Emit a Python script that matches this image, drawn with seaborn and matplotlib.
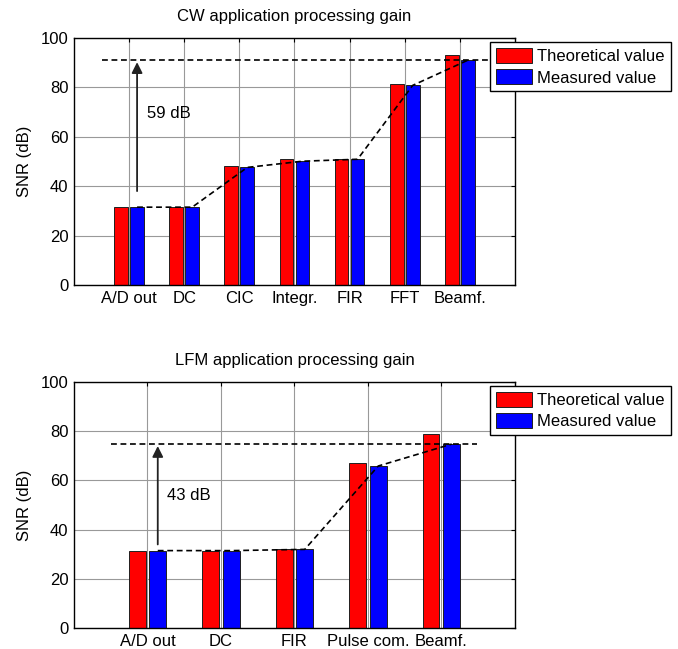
import numpy as np
import pandas as pd
import matplotlib
matplotlib.use("Agg")
import matplotlib.pyplot as plt
import seaborn as sns

# ---- data ----
cw_stages = ["A/D out", "DC", "CIC", "Integr.", "FIR", "FFT", "Beamf."]
cw_theoretical = [31.5, 31.5, 48.3, 51.1, 51.0, 81.2, 93.0]
cw_measured = [31.5, 31.5, 47.6, 50.1, 50.9, 80.8, 91.0]
cw_title = "CW application processing gain"
cw_gain_label = "59 dB"

lfm_stages = ["A/D out", "DC", "FIR", "Pulse com.", "Beamf."]
lfm_theoretical = [31.5, 31.5, 32.0, 66.9, 78.8]
lfm_measured = [31.5, 31.5, 32.0, 65.8, 74.7]
lfm_title = "LFM application processing gain"
lfm_gain_label = "43 dB"

series_names = ["Theoretical value", "Measured value"]
colors = ["#FF0000", "#0000FF"]
y_ticks = [0, 20, 40, 60, 80, 100]

sns.set_style("white")
plt.rcParams["font.family"] = ["Liberation Sans", "DejaVu Sans"]
plt.rcParams["font.size"] = 12
plt.rcParams["text.color"] = "black"
plt.rcParams["axes.labelcolor"] = "black"
plt.rcParams["xtick.color"] = "black"
plt.rcParams["ytick.color"] = "black"

fig = plt.figure(figsize=(6.78, 6.49), dpi=100)
ax1 = fig.add_axes([0.1091, 0.5609, 0.6504, 0.3806])
ax2 = fig.add_axes([0.1091, 0.0319, 0.6504, 0.3800])


def draw(ax, stages, theo, meas, title, gain_label, width, gap, label_pos, arrow_bottom, hline_end):
    n = len(stages)
    df = pd.DataFrame({
        "stage": stages * 2,
        "series": [series_names[0]] * n + [series_names[1]] * n,
        "value": list(theo) + list(meas),
    })
    sns.barplot(data=df, x="stage", y="value", hue="series", order=stages,
                hue_order=series_names, palette=colors, width=width, gap=gap,
                edgecolor="#202020", linewidth=0.7, saturation=1, ax=ax,
                errorbar=None)
    off = width / 4
    xs = np.arange(n) + off
    # dashed trend through measured values
    ax.plot(xs, meas, ls=(0, (3.5, 2.2)), color="black", lw=1.2, zorder=5)
    # target level
    top = meas[-1]
    ax.plot([-0.5, hline_end], [top, top], ls=(0, (3.5, 2.2)), color="black", lw=1.2, zorder=5)
    # arrow
    ax.annotate("", xy=(xs[0], top - 0.8), xytext=(xs[0], arrow_bottom),
                arrowprops=dict(arrowstyle="-|>", color="#222222", lw=1.3,
                                mutation_scale=16, shrinkA=0, shrinkB=0), zorder=6)
    ax.text(label_pos[0], label_pos[1], gain_label, fontsize=12, va="center", ha="left",
            color="black")

    ax.set_xlim(-1, n)
    ax.set_ylim(0, 100)
    ax.set_yticks(y_ticks)
    ax.set_xlabel("")
    ax.set_ylabel("SNR (dB)", fontsize=12, labelpad=6, color="black")
    ax.set_title(title, fontsize=12, pad=12, color="black")
    ax.grid(True, color="#999999", lw=0.8)
    ax.set_axisbelow(True)
    ax.tick_params(direction="in", top=True, right=True, length=3, width=0.8,
                   labelsize=12, pad=4, colors="black")
    for s in ax.spines.values():
        s.set_visible(True)
        s.set_color("black")
        s.set_linewidth(1.0)
    handles, labels = ax.get_legend_handles_labels()
    leg = ax.legend(handles, labels, loc="upper left", bbox_to_anchor=(0.943, 0.982),
                    fontsize=12, frameon=True, fancybox=False, framealpha=1,
                    edgecolor="black", handlelength=2.2, handleheight=1.0,
                    handletextpad=0.3, labelspacing=0.3, borderpad=0.35,
                    borderaxespad=0)
    leg.get_frame().set_linewidth(1.0)
    for t in leg.get_texts():
        t.set_color("black")
    leg.set_zorder(10)


draw(ax1, cw_stages, cw_theoretical, cw_measured, cw_title, cw_gain_label,
     width=0.58, gap=0.14, label_pos=(0.33, 69.5), arrow_bottom=38, hline_end=6.95)
draw(ax2, lfm_stages, lfm_theoretical, lfm_measured, lfm_title, lfm_gain_label,
     width=0.56, gap=0.19, label_pos=(0.26, 53.8), arrow_bottom=34, hline_end=4.48)

fig.savefig("out.png", dpi=100)
